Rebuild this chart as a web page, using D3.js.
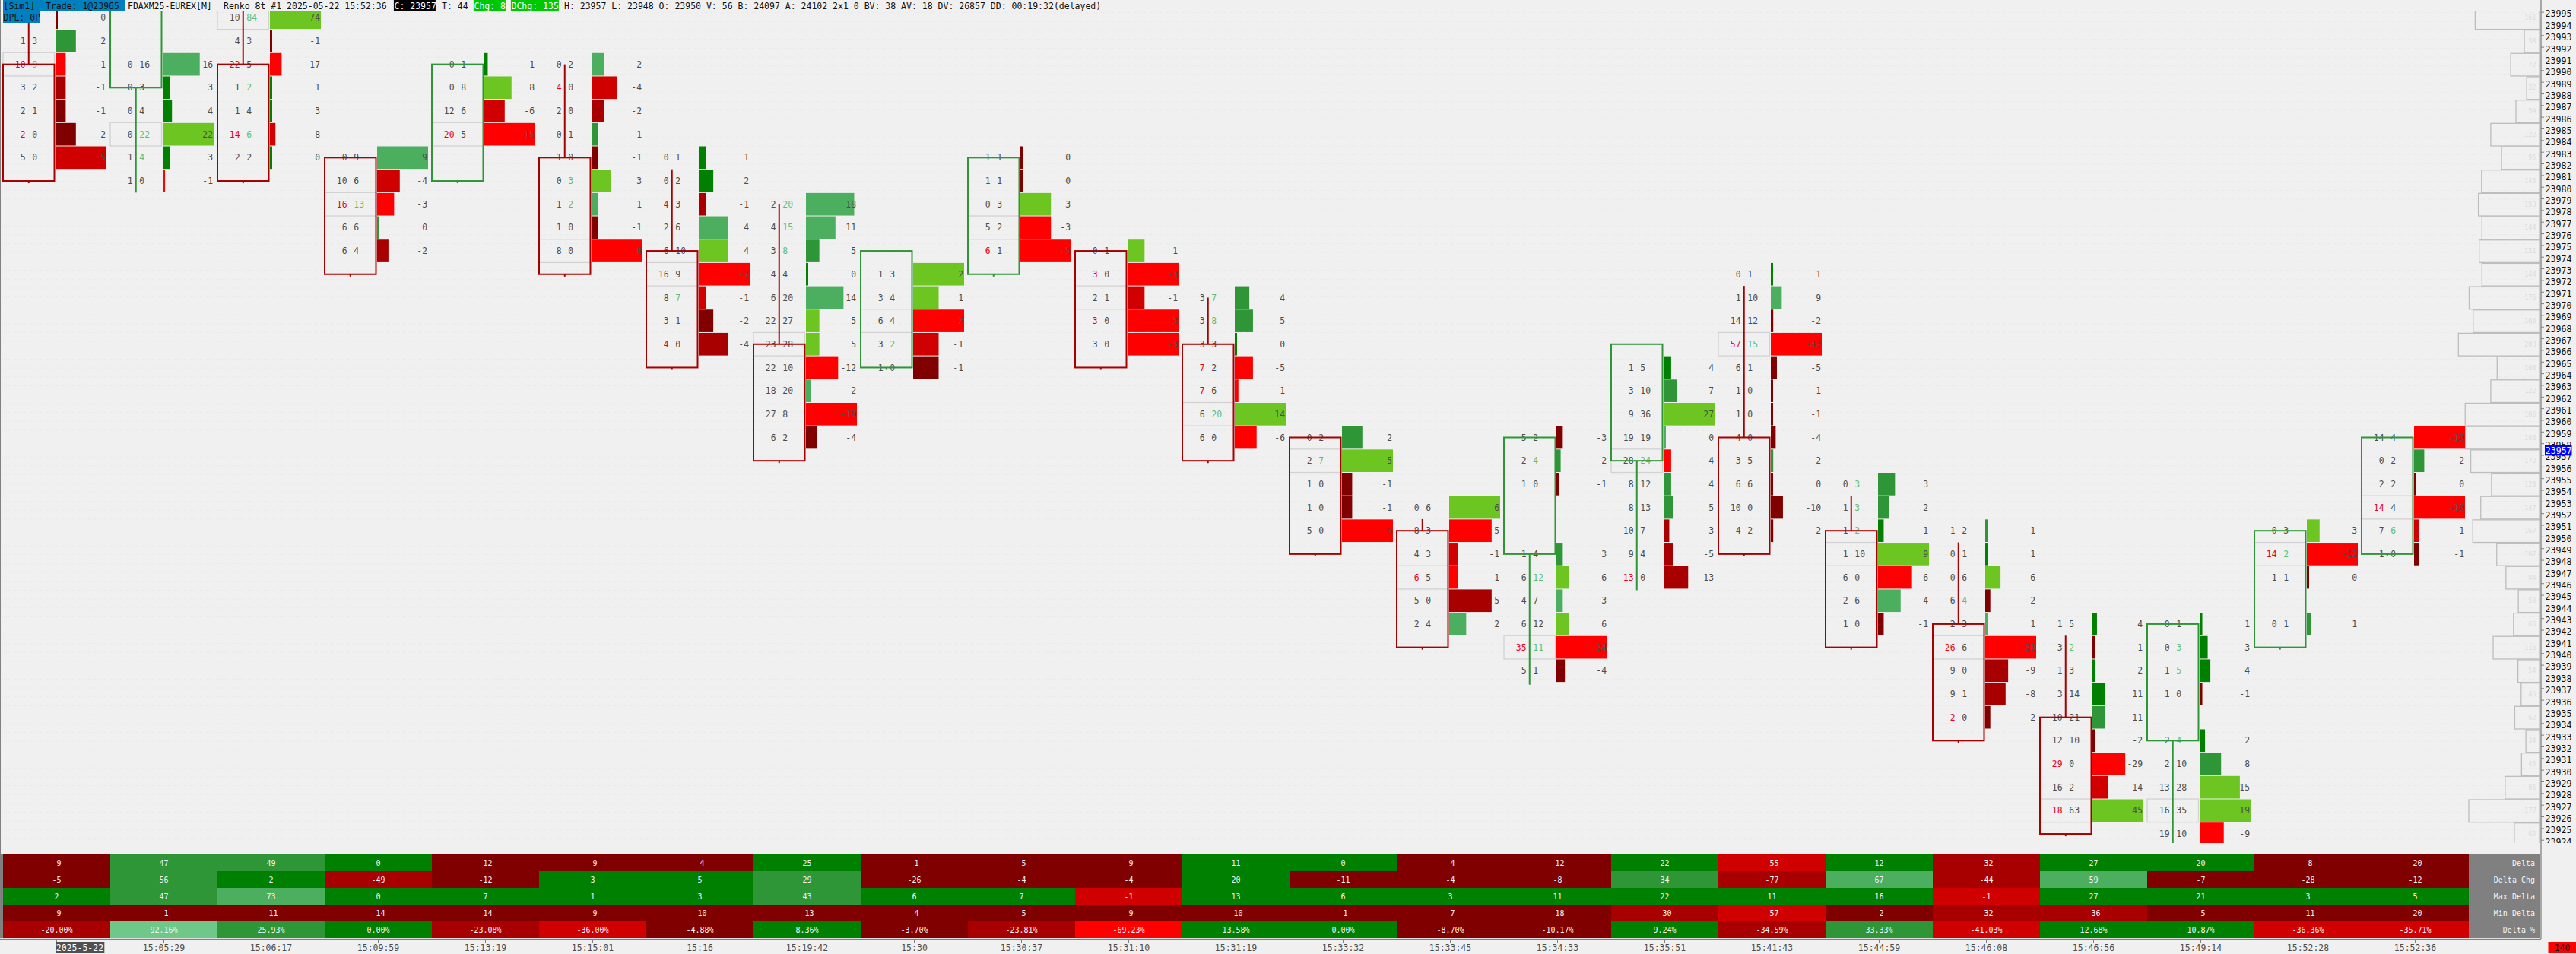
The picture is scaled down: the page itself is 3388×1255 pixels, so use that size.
<!DOCTYPE html>
<html>
<head>
<meta charset="utf-8">
<script src="https://d3js.org/d3.v7.min.js"></script>
<style>
html, body { margin: 0; padding: 0; background: #f0f0f0; overflow: hidden; }
svg { display: block; }
text { font-family: "DejaVu Sans Mono", monospace; }
</style>
</head>
<body>
<div id="chart"></div>
<script>
// bars, left to right
var barTimes = ["2025-5-22", "15:05:29", "15:06:17", "15:09:59", "15:13:19", "15:15:01", "15:16", "15:19:42",
    "15:30", "15:30:37", "15:31:10", "15:31:19", "15:33:32", "15:33:45", "15:34:33", "15:35:51",
    "15:41:43", "15:44:59", "15:46:08", "15:46:56", "15:49:14", "15:52:28", "15:52:36"];
var barOpen = [23990.5, 23988.5, 23990.5, 23982.5, 23980.5, 23982.5, 23974.5, 23966.5, 23964.5, 23972.5, 23974.5, 23966.5,
    23958.5, 23950.5, 23948.5, 23956.5, 23958.5, 23950.5, 23942.5, 23934.5, 23932.5, 23940.5, 23948.5];
var barClose = [23980.5, 23998.5, 23980.5, 23972.5, 23990.5, 23972.5, 23964.5, 23956.5, 23974.5, 23982.5, 23964.5, 23956.5,
    23948.5, 23940.5, 23958.5, 23966.5, 23948.5, 23940.5, 23932.5, 23924.5, 23942.5, 23950.5, 23958.5];
var barHigh = [23996, 23998.5, 23996, 23982.5, 23990.5, 23990.5, 23981.5, 23978.5, 23974.5, 23982.5, 23974.5, 23970.5,
    23958.5, 23951.5, 23958.5, 23966.5, 23971.5, 23953.5, 23949.5, 23941.5, 23942.5, 23950.5, 23958.5];
var barLow = [23980.3, 23979.5, 23980.3, 23972.3, 23980.3, 23972.3, 23964.3, 23956.3, 23964.3, 23972.3, 23964.3, 23956.3,
    23948.3, 23940.3, 23937.3, 23945.4, 23948.3, 23940.3, 23932.3, 23924.3, 23922, 23940.3, 23948.3];
var barFirstRow = [23994.5, 23990.5, 23994.5, 23982.5, 23990.5, 23990.5, 23982.5, 23978.5, 23972.5, 23982.5, 23974.5, 23970.5,
    23958.5, 23952.5, 23958.5, 23964.5, 23972.5, 23954.5, 23950.5, 23942.5, 23942.5, 23950.5, 23958.5];

// footprint rows of each bar, top to bottom: [bid, ask, shade, imbalance]
// shade is a signed step of the delta colour, imbalance marks b = bid, a = ask
var barRows = [
    [[1, 1, -1, ""], [1, 3, 2, ""], [10, 9, -4, "ba"], [3, 2, -2, ""], [2, 1, -1, ""], [2, 0, -1, "b"], [5, 0, -3, ""]],
    [[0, 16, 3, ""], [0, 3, 1, ""], [0, 4, 1, ""], [0, 22, 4, "a"], [1, 4, 1, "a"], [1, 0, -4, ""]],
    [[10, 84, 4, "a"], [4, 3, -1, ""], [22, 5, -4, "b"], [1, 2, 1, "a"], [1, 4, 1, ""], [14, 6, -3, "ba"], [2, 2, 1, ""]],
    [[0, 9, 3, ""], [10, 6, -3, ""], [16, 13, -4, "ba"], [6, 6, 2, ""], [6, 4, -2, ""]],
    [[0, 1, 1, ""], [0, 8, 4, ""], [12, 6, -3, ""], [20, 5, -4, "b"]],
    [[0, 2, 3, ""], [4, 0, -3, "b"], [2, 0, -2, ""], [0, 1, 2, ""], [1, 0, -1, ""], [0, 3, 4, "a"], [1, 2, 3, "a"], [1, 0, -1, ""], [8, 0, -4, ""]],
    [[0, 1, 1, ""], [0, 2, 1, ""], [4, 3, -2, "b"], [2, 6, 3, ""], [6, 10, 4, ""], [16, 9, -4, ""], [8, 7, -3, "a"], [3, 1, -1, ""], [4, 0, -2, "b"]],
    [[2, 20, 3, "a"], [4, 15, 3, "a"], [3, 8, 2, "a"], [4, 4, 1, ""], [6, 20, 3, ""], [22, 27, 4, ""], [23, 28, 4, ""], [22, 10, -4, ""], [18, 20, 3, ""], [27, 8, -4, ""], [6, 2, -1, ""]],
    [[1, 3, 4, ""], [3, 4, 4, ""], [6, 4, -4, ""], [3, 2, -3, "a"], [1, 0, -1, ""]],
    [[1, 1, -1, ""], [1, 1, -1, ""], [0, 3, 4, ""], [5, 2, -4, ""], [6, 1, -4, "b"]],
    [[0, 1, 4, ""], [3, 0, -4, "b"], [2, 1, -3, ""], [3, 0, -4, "b"], [3, 0, -4, ""]],
    [[3, 7, 2, "a"], [3, 8, 2, "a"], [3, 3, 1, ""], [7, 2, -4, "b"], [7, 6, -4, "b"], [6, 20, 4, "a"], [6, 0, -4, ""]],
    [[0, 2, 2, ""], [2, 7, 4, "a"], [1, 0, -1, ""], [1, 0, -1, ""], [5, 0, -4, ""]],
    [[0, 6, 4, ""], [8, 3, -4, ""], [4, 3, -3, ""], [6, 5, -4, "b"], [5, 0, -2, ""], [2, 4, 3, ""]],
    [[5, 2, -1, ""], [2, 4, 2, "a"], [1, 0, -1, ""], null, null, [1, 4, 2, ""], [6, 12, 4, "a"], [4, 7, 3, ""], [6, 12, 4, ""], [35, 11, -4, "ba"], [5, 1, -1, ""]],
    [[1, 5, 1, ""], [3, 10, 2, ""], [9, 36, 4, ""], [19, 19, 3, ""], [28, 24, -4, "a"], [8, 12, 2, ""], [8, 13, 2, ""], [10, 7, -2, ""], [9, 4, -2, ""], [13, 0, -2, "b"]],
    [[0, 1, 1, ""], [1, 10, 3, ""], [14, 12, -1, ""], [57, 15, -4, "ba"], [6, 1, -1, ""], [1, 0, -1, ""], [1, 0, -1, ""], [4, 0, -1, ""], [3, 5, 2, ""], [6, 6, -1, ""], [10, 0, -1, ""], [4, 2, -1, ""]],
    [[0, 3, 2, "a"], [1, 3, 2, "a"], [1, 2, 1, "a"], [1, 10, 4, ""], [6, 0, -4, ""], [2, 6, 3, ""], [1, 0, -1, ""]],
    [[1, 2, 2, ""], [0, 1, 1, ""], [0, 6, 4, ""], [6, 4, -1, "a"], [2, 3, 3, ""], [26, 6, -4, "b"], [9, 0, -2, ""], [9, 1, -2, ""], [2, 0, -1, "b"]],
    [[1, 5, 1, ""], [3, 2, -1, "a"], [1, 3, 1, ""], [3, 14, 1, ""], [10, 21, 2, ""], [12, 10, -1, ""], [29, 0, -4, "b"], [16, 2, -3, ""], [18, 63, 4, "b"]],
    [[0, 1, 1, ""], [0, 3, 1, "a"], [1, 5, 1, "a"], [1, 0, -1, ""], null, [2, 4, 1, "a"], [2, 10, 2, ""], [13, 28, 4, ""], [16, 35, 4, ""], [19, 10, -4, ""]],
    [[0, 3, 4, ""], [14, 2, -4, "ba"], [1, 1, -1, ""], null, [0, 1, 2, ""]],
    [[14, 4, -4, ""], [0, 2, 2, ""], [2, 2, -1, ""], [14, 4, -4, "b"], [7, 6, -3, "a"], [1, 0, -1, ""]]
];

// volume profile on the right, rows from the top
var profileFirstRow = 23994.5;
var profileVol = [161, 38, 72, 32, 59, 122, 95, 145, 153, 144, 151, 144, 176, 166, 203, 106, 122, 186,
    186, 172, 120, 147, 167, 107, 84, 53, 65, 116, 54, 46, 62, 34, 45, 86, 177, 63];

// table under the chart
var tableNames = ["Delta", "Delta Chg", "Max Delta", "Min Delta", "Delta %"];
var deltaVals = [-9, 47, 49, 0, -12, -9, -4, 25, -1, -5, -9, 11, 0, -4, -12, 22, -55, 12, -32, 27, 20, -8, -20];
var deltaChgVals = [-5, 56, 2, -49, -12, 3, 5, 29, -26, -4, -4, 20, -11, -4, -8, 34, -77, 67, -44, 59, -7, -28, -12];
var maxDeltaVals = [2, 47, 73, 0, 7, 1, 3, 43, 6, 7, -1, 13, 6, 3, 11, 22, 11, 16, -1, 27, 21, 3, 5];
var minDeltaVals = [-9, -1, -11, -14, -14, -9, -10, -13, -4, -5, -9, -10, -1, -7, -18, -30, -57, -2, -32, -36, -5, -11, -20];
var deltaPctVals = ["-20.00%", "92.16%", "25.93%", "0.00%", "-23.08%", "-36.00%", "-4.88%", "8.36%", "-3.70%", "-23.81%", "-69.23%",
    "13.58%", "0.00%", "-8.70%", "-10.17%", "9.24%", "-34.59%", "33.33%", "-41.03%", "12.68%", "10.87%", "-36.36%", "-35.71%"];
var deltaShades = [-1, 2, 2, 1, -1, -1, -1, 1, -1, -1, -1, 1, 1, -1, -1, 1, -3, 1, -2, 1, 1, -1, -1];
var deltaChgShades = [-1, 2, 1, -2, -1, 1, 1, 2, -1, -1, -1, 1, -1, -1, -1, 2, -2, 3, -2, 3, -1, -1, -1];
var maxDeltaShades = [1, 2, 3, 1, 1, 1, 1, 2, 1, 1, -3, 1, 1, 1, 1, 1, 1, 1, -3, 1, 1, 1, 1];
var minDeltaShades = [-1, -1, -1, -1, -1, -1, -1, -1, -1, -1, -1, -1, -1, -1, -1, -2, -3, -1, -2, -2, -1, -1, -1];
var deltaPctShades = [-2, 5, 2, 1, -2, -3, -1, 1, -1, -2, -4, 1, 1, -1, -1, 1, -2, 2, -3, 1, 1, -3, -3];

var lastPrice = 23957;
var cornerValue = "140";
var tickPrices = d3.range(23924, 23996);

var width = 3388, height = 1255;
var plotRight = 3340, axisX = 3342, plotTop = 15, plotBottom = 1109;
var tableTop = 1124, tableBottom = 1234, labelLeft = 3247;

var shade = d3.scaleOrdinal()
    .domain([-4, -3, -2, -1, 1, 2, 3, 4, 5])
    .range(["#ff0000", "#d00000", "#a80000", "#800000", "#008000", "#2e9636", "#4caf60", "#6cc520", "#6fc888"]);

var x = d3.scaleBand().domain(barTimes).range([4, labelLeft]);
var y = d3.scaleLinear().domain([23995, 23924]).range([15.6, 1104.7]);
var deltaW = d3.scaleLinear().range([0, 67]);
var profileX = d3.scaleLinear().domain([0, 203]).range([plotRight, 3233.3]);

var svg = d3.select("#chart").append("svg")
    .attr("width", width)
    .attr("height", height);

svg.append("rect")
    .attr("width", width)
    .attr("height", height)
    .attr("fill", "#f0f0f0");

svg.append("defs").append("clipPath")
    .attr("id", "clip")
    .append("rect")
    .attr("x", 0)
    .attr("y", plotTop)
    .attr("width", plotRight + 1)
    .attr("height", plotBottom - plotTop);

svg.append("defs").append("clipPath")
    .attr("id", "clipAxis")
    .append("rect")
    .attr("x", axisX - 1)
    .attr("y", 0)
    .attr("width", width - axisX)
    .attr("height", plotBottom);

var plot = svg.append("g").attr("clip-path", "url(#clip)");

// faint dotted grid
plot.selectAll(".grid")
    .data(d3.range(16.6, plotBottom, 11.69))
    .enter().append("line")
    .attr("x1", 2)
    .attr("x2", plotRight)
    .attr("y1", function(d) { return d; })
    .attr("y2", function(d) { return d; })
    .attr("stroke", "#e6e6e6")
    .attr("stroke-dasharray", "1,2");

// volume profile
var prof = plot.selectAll(".prof")
    .data(profileVol)
    .enter().append("g");

prof.append("rect")
    .attr("x", function(d) { return profileX(d); })
    .attr("y", function(d, i) { return y(profileFirstRow - 2 * i + 1) + 1; })
    .attr("width", function(d) { return plotRight - profileX(d); })
    .attr("height", function(d, i) { return y(profileFirstRow - 2 * i - 1) - y(profileFirstRow - 2 * i + 1) - 1; })
    .attr("fill", "none")
    .attr("stroke", "#bdbdbd")
    .attr("stroke-width", 1.3);

prof.append("text")
    .attr("x", plotRight - 4.5)
    .attr("y", function(d, i) { return y(profileFirstRow - 2 * i); })
    .attr("dy", "0.36em")
    .attr("text-anchor", "end")
    .attr("font-size", 8.5)
    .attr("fill", "#dcdcdc")
    .text(function(d) { return d; });

// footprint bars
barTimes.forEach(function(t, b) {
    var x0 = x(t);
    var rows = [];
    barRows[b].forEach(function(r, i) {
        if (r) rows.push({ price: barFirstRow[b] - 2 * i, bid: r[0], ask: r[1], level: r[2], mark: r[3], delta: r[1] - r[0] });
    });

    deltaW.domain([0, d3.max(rows, function(d) { return Math.abs(d.delta); })]);

    // point of control: biggest volume, the row nearest the middle on a tie
    var maxVol = d3.max(rows, function(d) { return d.bid + d.ask; });
    var midPrice = barFirstRow[b] - (barRows[b].length - 1);
    var poc = rows.filter(function(d) { return d.bid + d.ask === maxVol; })
        .sort(function(p, q) { return Math.abs(p.price - midPrice) - Math.abs(q.price - midPrice); })[0];

    var g = plot.append("g").attr("class", "bar");

    g.append("rect")
        .attr("x", x0)
        .attr("y", y(poc.price + 1))
        .attr("width", 67.5)
        .attr("height", y(poc.price - 1) - y(poc.price + 1))
        .attr("fill", "none")
        .attr("stroke", "#d2d2d2")
        .attr("stroke-width", 1.3);

    g.selectAll(".delta-bar")
        .data(rows)
        .enter().append("rect")
        .attr("x", x0 + 69)
        .attr("y", function(d) { return y(d.price + 1) + 0.5; })
        .attr("width", function(d) { return Math.max(deltaW(Math.abs(d.delta)), 3); })
        .attr("height", function(d) { return y(d.price - 1) - y(d.price + 1) - 1; })
        .attr("fill", function(d) { return shade(d.level); });

    g.selectAll(".bid")
        .data(rows)
        .enter().append("text")
        .attr("x", x0 + 29.5)
        .attr("y", function(d) { return y(d.price); })
        .attr("dy", "0.36em")
        .attr("text-anchor", "end")
        .attr("font-size", 11.4)
        .attr("fill", function(d) { return d.mark.indexOf("b") >= 0 ? "#e8001c" : "#4d4d4d"; })
        .text(function(d) { return d.bid; });

    g.selectAll(".ask")
        .data(rows)
        .enter().append("text")
        .attr("x", x0 + 38.3)
        .attr("y", function(d) { return y(d.price); })
        .attr("dy", "0.36em")
        .attr("font-size", 11.4)
        .attr("fill", function(d) { return d.mark.indexOf("a") >= 0 ? "#5cbf78" : "#4d4d4d"; })
        .text(function(d) { return d.ask; });

    g.selectAll(".delta")
        .data(rows)
        .enter().append("text")
        .attr("x", x0 + 135)
        .attr("y", function(d) { return y(d.price); })
        .attr("dy", "0.36em")
        .attr("text-anchor", "end")
        .attr("font-size", 11.4)
        .attr("fill", "#4d4d4d")
        .text(function(d) { return d.delta; });

    // candle on top of the numbers, the wick stops at the box
    var up = barClose[b] > barOpen[b];
    var col = up ? "#2e9636" : "#a80000";
    var boxTop = Math.max(barOpen[b], barClose[b]);
    var boxBottom = Math.min(barOpen[b], barClose[b]);
    g.selectAll(".wick")
        .data([[barHigh[b], boxTop], [boxBottom, barLow[b]]])
        .enter().append("line")
        .attr("x1", x0 + 33.75)
        .attr("x2", x0 + 33.75)
        .attr("y1", function(d) { return y(d[0]); })
        .attr("y2", function(d) { return y(d[1]); })
        .attr("stroke", col)
        .attr("stroke-width", 2);
    g.append("rect")
        .attr("x", x0)
        .attr("y", y(boxTop))
        .attr("width", 67.5)
        .attr("height", y(boxBottom) - y(boxTop))
        .attr("fill", "none")
        .attr("stroke", col)
        .attr("stroke-width", 2);
});

// table
var tableVals = [deltaVals, deltaChgVals, maxDeltaVals, minDeltaVals, deltaPctVals];
var tableShades = [deltaShades, deltaChgShades, maxDeltaShades, minDeltaShades, deltaPctShades];
var rowY = d3.scaleBand().domain(tableNames).range([tableTop, tableBottom]);

tableNames.forEach(function(name, r) {
    var row = svg.append("g").attr("class", "table-row");
    row.selectAll("rect")
        .data(barTimes)
        .enter().append("rect")
        .attr("x", function(d) { return x(d); })
        .attr("y", rowY(name))
        .attr("width", x.bandwidth() + 0.3)
        .attr("height", rowY.bandwidth() + 0.3)
        .attr("fill", function(d, i) { return shade(tableShades[r][i]); });
    row.selectAll("text")
        .data(barTimes)
        .enter().append("text")
        .attr("x", function(d) { return x(d) + x.bandwidth() / 2; })
        .attr("y", rowY(name) + rowY.bandwidth() / 2)
        .attr("dy", "0.36em")
        .attr("text-anchor", "middle")
        .attr("font-size", 10)
        .attr("fill", "#f4f4f4")
        .text(function(d, i) { return tableVals[r][i]; });
});

svg.append("rect")
    .attr("x", labelLeft)
    .attr("y", tableTop)
    .attr("width", plotRight - labelLeft)
    .attr("height", tableBottom - tableTop)
    .attr("fill", "#808080");

svg.selectAll(".table-label")
    .data(tableNames)
    .enter().append("text")
    .attr("x", plotRight - 6)
    .attr("y", function(d) { return rowY(d) + rowY.bandwidth() / 2; })
    .attr("dy", "0.36em")
    .attr("text-anchor", "end")
    .attr("font-size", 10)
    .attr("fill", "#f4f4f4")
    .text(function(d) { return d; });

svg.append("rect")
    .attr("x", 0)
    .attr("y", tableTop)
    .attr("width", 4)
    .attr("height", tableBottom - tableTop)
    .attr("fill", "#808080");

// frame
svg.append("line").attr("x1", 0.5).attr("x2", 0.5).attr("y1", 0).attr("y2", 1235).attr("stroke", "#808080");
svg.append("line").attr("x1", 0).attr("x2", axisX).attr("y1", 1234.5).attr("y2", 1234.5).attr("stroke", "#ffffff");
svg.append("line").attr("x1", 0).attr("x2", axisX).attr("y1", 1235.5).attr("y2", 1235.5).attr("stroke", "#808080").attr("stroke-width", 1.3);
svg.append("line").attr("x1", plotRight + 0.5).attr("x2", plotRight + 0.5).attr("y1", 0).attr("y2", 1234).attr("stroke", "#ffffff");
svg.append("line").attr("x1", axisX).attr("x2", axisX).attr("y1", 0).attr("y2", 1235).attr("stroke", "#808080").attr("stroke-width", 1.3);

// price axis
var yAxis = d3.axisRight(y)
    .tickValues(tickPrices)
    .tickFormat(d3.format("d"))
    .tickSize(4)
    .tickPadding(1.5);

var yg = svg.append("g")
    .attr("clip-path", "url(#clipAxis)")
    .append("g")
    .attr("transform", "translate(" + axisX + ",0)")
    .call(yAxis);
yg.select(".domain").remove();
yg.selectAll(".tick line").attr("stroke", "#808080");
yg.selectAll(".tick text")
    .attr("dy", "0.55em")
    .attr("font-family", "'DejaVu Sans Mono', monospace")
    .attr("font-size", 11.6)
    .attr("fill", "#111");

svg.append("rect")
    .attr("x", 3347)
    .attr("y", y(lastPrice + 0.5) - 5)
    .attr("width", 35.5)
    .attr("height", 13.5)
    .attr("fill", "#0000ff");
svg.append("text")
    .attr("x", 3347.7)
    .attr("y", y(lastPrice + 0.5) + 2)
    .attr("dy", "0.36em")
    .attr("font-size", 11.6)
    .attr("fill", "#fff")
    .text(lastPrice);

// time axis
var xAxis = d3.axisBottom(x)
    .tickSize(4)
    .tickSizeOuter(0);

var xg = svg.append("g")
    .attr("transform", "translate(0,1236)")
    .call(xAxis);
xg.select(".domain").remove();
xg.selectAll(".tick line").attr("stroke", "#808080");
xg.selectAll(".tick text")
    .attr("y", 15)
    .attr("dy", 0)
    .attr("font-family", "'DejaVu Sans Mono', monospace")
    .attr("font-size", 11.5)
    .attr("fill", "#4d4d4d");

// date label sits right of its tick, on a dark chip
var dateX = x(barTimes[0]) + x.bandwidth() / 2;
xg.select(".tick text").remove();
svg.append("rect").attr("x", dateX - 0.7).attr("y", 1239).attr("width", 63.5).attr("height", 15).attr("fill", "#505050");
svg.append("text").attr("x", dateX - 0.7).attr("y", 1251).attr("font-size", 11.5).attr("fill", "#fff").text(barTimes[0]);

svg.append("rect").attr("x", 3351.5).attr("y", 1239).attr("width", 36.5).attr("height", 15).attr("fill", "#ff0000");
svg.append("text").attr("x", 3370).attr("y", 1251).attr("text-anchor", "middle").attr("font-size", 11.5).attr("fill", "#111").text(cornerValue);

// header strip
var headerBits = [
    { t: "[Sim1]  Trade: 1@23965", x: 4.6, bg: "#0080c0", bgW: 161, c: "#111" },
    { t: "FDAXM25-EUREX[M]", x: 168, c: "#111" },
    { t: "Renko 8t #1 2025-05-22 15:52:36", x: 294, c: "#111" },
    { t: "C: 23957", x: 518.5, bg: "#000000", bgW: 55, c: "#fff" },
    { t: "T: 44", x: 581, c: "#111" },
    { t: "Chg: 8", x: 623.5, bg: "#00c800", bgW: 42, c: "#fff" },
    { t: "DChg: 135", x: 672.5, bg: "#00c800", bgW: 63, c: "#fff" },
    { t: "H: 23957 L: 23948 O: 23950 V: 56 B: 24097 A: 24102 2x1 0 BV: 38 AV: 18 DV: 26857 DD: 00:19:32(delayed)", x: 742, c: "#111" }
];

headerBits.forEach(function(h) {
    if (h.bg) {
        svg.append("rect").attr("x", h.x - 0.6).attr("y", 0).attr("width", h.bgW).attr("height", 15).attr("fill", h.bg);
    }
    svg.append("text")
        .attr("x", h.x)
        .attr("y", 12)
        .attr("font-size", 11.5)
        .attr("xml:space", "preserve")
        .style("white-space", "pre")
        .attr("fill", h.c)
        .text(h.t);
});

svg.append("rect").attr("x", 4).attr("y", 15).attr("width", 49).attr("height", 15).attr("fill", "#0080c0");
svg.append("text").attr("x", 4.6).attr("y", 27).attr("font-size", 11.5).attr("fill", "#111").text("DPL: 0P");
</script>
</body>
</html>
